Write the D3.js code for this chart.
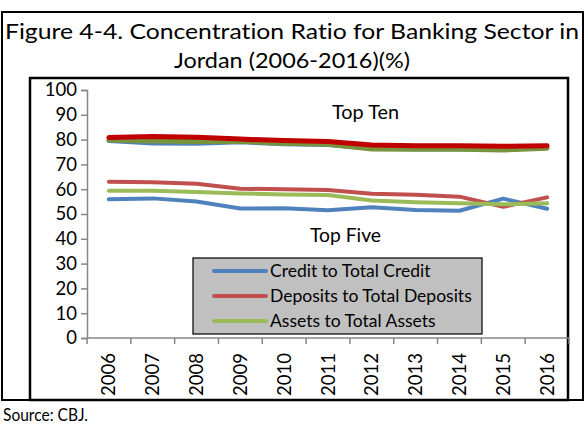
<!DOCTYPE html>
<html><head><meta charset="utf-8">
<script src="https://cdn.jsdelivr.net/npm/d3@7"></script>
<style>html,body{margin:0;padding:0;background:#fff;}svg{display:block;}text{font-variant-ligatures:none;font-feature-settings:"liga" 0,"clig" 0,"dlig" 0;}</style>
</head><body>
<svg id="chart" width="585" height="427"></svg>
<script>
const years = ["2006","2007","2008","2009","2010","2011","2012","2013","2014","2015","2016"];
const yTicks = [0,10,20,30,40,50,60,70,80,90,100];
const top5Credit   = [55.9, 56.3, 55.0, 52.2, 52.3, 51.5, 52.7, 51.6, 51.3, 56.2, 52.1];
const top5Deposits = [63.0, 62.8, 62.2, 60.2, 60.0, 59.7, 58.2, 57.8, 57.0, 52.9, 56.7];
const top5Assets   = [59.4, 59.4, 58.9, 58.3, 57.9, 57.7, 55.4, 54.7, 54.3, 53.9, 54.3];
const top10Credit   = [79.5, 78.5, 78.4, 79.0, 78.2, 77.9, 76.4, 76.2, 76.2, 76.0, 76.7];
const top10Deposits = [80.8, 81.2, 80.9, 80.2, 79.6, 79.2, 77.8, 77.5, 77.5, 77.3, 77.5];
const top10Assets   = [79.8, 79.4, 79.2, 79.3, 78.5, 78.1, 76.2, 76.1, 76.1, 75.8, 76.5];
const legendLabels = ["Credit to Total Credit","Deposits to Total Deposits","Assets to Total Assets"];
const titleLines = ["Figure 4-4. Concentration Ratio for Banking Sector in","Jordan (2006-2016)(%)"];
const sourceText = "Source: CBJ.";

const FONT = "Lato, 'Open Sans', sans-serif";
const svg = d3.select("#chart");

// frames
svg.append("rect").attr("x",2).attr("y",12).attr("width",581).attr("height",388)
  .attr("fill","none").attr("stroke","#000").attr("stroke-width",2);
svg.append("rect").attr("x",30).attr("y",78).attr("width",538).attr("height",322)
  .attr("fill","none").attr("stroke","#000").attr("stroke-width",2.5);

// title
svg.append("text").attr("x",292).attr("y",39).attr("text-anchor","middle")
  .attr("font-family",FONT).attr("font-size",22).attr("fill","#000")
  .attr("textLength",574).attr("lengthAdjust","spacingAndGlyphs").text(titleLines[0]);
svg.append("text").attr("x",292).attr("y",68).attr("text-anchor","middle")
  .attr("font-family",FONT).attr("font-size",22).attr("fill","#000")
  .attr("textLength",236).attr("lengthAdjust","spacingAndGlyphs").text(titleLines[1]);

svg.append("text").attr("x",3).attr("y",421)
  .attr("font-family",FONT).attr("font-size",17).attr("fill","#000")
  .attr("textLength",85).attr("lengthAdjust","spacingAndGlyphs").text(sourceText);

const x = d3.scaleBand().domain(years).range([87,569]).padding(0);
const y = d3.scaleLinear().domain([0,100]).range([338,90]);
const AX = "#868686";

// y axis
const ya = svg.append("g").attr("transform","translate(87,0)")
  .call(d3.axisLeft(y).tickValues(yTicks).tickSize(6).tickPadding(4).tickFormat(d3.format("d")));
ya.select(".domain").attr("stroke",AX).attr("stroke-width",1.5);
ya.selectAll(".tick line").attr("stroke",AX).attr("stroke-width",1.5);
ya.selectAll(".tick text").attr("font-family",FONT).attr("font-size",18.5).attr("fill","#000");

// x axis
const xa = svg.append("g").attr("transform","translate(0,338)");
xa.append("line").attr("x1",87).attr("x2",569).attr("stroke",AX).attr("stroke-width",1.5);
const bounds = years.map(d=>x(d)).concat([x(years[years.length-1])+x.bandwidth()]);
xa.selectAll("line.tk").data(bounds).enter().append("line").attr("class","tk")
  .attr("x1",d=>d).attr("x2",d=>d).attr("y1",0).attr("y2",6).attr("stroke",AX).attr("stroke-width",1.5);
xa.selectAll("text").data(years).enter().append("text")
  .attr("transform",d=>`translate(${x(d)+x.bandwidth()/2+6.5},15) rotate(-90)`)
  .attr("text-anchor","end").attr("font-family",FONT).attr("font-size",18.5).attr("fill","#000")
  .text(d=>d);

const line = d3.line().x((d,i)=>x(years[i])+x.bandwidth()/2).y(d=>y(d));
const series = [
  {v: top10Credit, c:"#4F81BD", w:4.5},
  {v: top10Assets, c:"#77933C", w:5},
  {v: top10Deposits, c:"#C00000", w:5},
  {v: top5Credit, c:"#4F81BD", w:4},
  {v: top5Deposits, c:"#C0504D", w:4},
  {v: top5Assets, c:"#9BBB59", w:4}
];
svg.selectAll("path.s").data(series).enter().append("path").attr("class","s")
  .attr("d",d=>line(d.v)).attr("fill","none").attr("stroke",d=>d.c)
  .attr("stroke-width",d=>d.w).attr("stroke-linejoin","round").attr("stroke-linecap","round");

svg.append("text").attr("x",332).attr("y",119).attr("font-family",FONT).attr("font-size",19.5)
  .attr("textLength",67).attr("lengthAdjust","spacingAndGlyphs").text("Top Ten");
svg.append("text").attr("x",310).attr("y",242).attr("font-family",FONT).attr("font-size",19.5)
  .attr("textLength",71).attr("lengthAdjust","spacingAndGlyphs").text("Top Five");

// legend
const lg = svg.append("g");
lg.append("rect").attr("x",193).attr("y",258).attr("width",289).attr("height",76)
  .attr("fill","#C0C0C0").attr("stroke","#000").attr("stroke-width",1.2);
const lcol = ["#4F81BD","#C0504D","#9BBB59"];
legendLabels.forEach((t,i)=>{
  const cy = 271 + i*25;
  lg.append("line").attr("x1",214).attr("x2",266).attr("y1",cy).attr("y2",cy)
    .attr("stroke",lcol[i]).attr("stroke-width",4).attr("stroke-linecap","round");
  lg.append("text").attr("x",270).attr("y",cy+6).attr("font-family",FONT).attr("font-size",17.5)
    .attr("fill","#000").text(t);
});
</script>
</body></html>
